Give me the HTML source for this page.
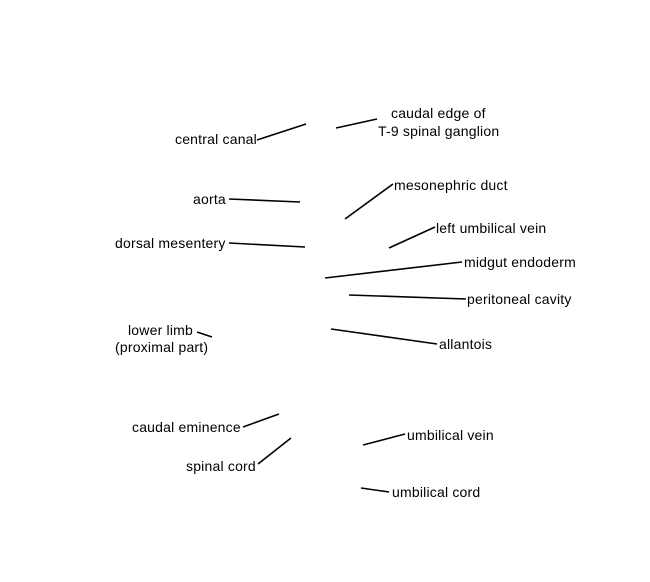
<!DOCTYPE html>
<html><head><meta charset="utf-8"><style>
html,body{margin:0;padding:0;background:#fff;}
#c{position:relative;width:650px;height:582px;overflow:hidden;font-family:"Liberation Sans",Arial,sans-serif;font-size:14px;letter-spacing:0.2px;color:#000;}
.t{position:absolute;line-height:16px;white-space:nowrap;}
svg{position:absolute;left:0;top:0;}
</style></head><body><div id="c">
<svg width="650" height="582" stroke="#000" stroke-width="1.6" fill="none">
<line x1="257" y1="140" x2="306" y2="124"/>
<line x1="336" y1="128" x2="377" y2="119"/>
<line x1="229" y1="199" x2="300" y2="202"/>
<line x1="345" y1="219" x2="393" y2="184"/>
<line x1="389" y1="248" x2="435" y2="227"/>
<line x1="229" y1="243" x2="305" y2="247"/>
<line x1="325" y1="278" x2="462" y2="262"/>
<line x1="349" y1="295" x2="466" y2="299"/>
<line x1="197" y1="332" x2="212" y2="337"/>
<line x1="331" y1="329" x2="437" y2="344"/>
<line x1="243" y1="427" x2="279" y2="414"/>
<line x1="258" y1="464" x2="291" y2="438"/>
<line x1="363" y1="445" x2="405" y2="434"/>
<line x1="361" y1="488" x2="389" y2="492"/>
</svg>
<div class="t" style="left:175px;top:131px">central canal</div>
<div class="t" style="left:391px;top:105px">caudal edge of</div>
<div class="t" style="left:378px;top:123px">T-9 spinal ganglion</div>
<div class="t" style="left:193px;top:191px">aorta</div>
<div class="t" style="left:394px;top:177px">mesonephric duct</div>
<div class="t" style="left:436px;top:220px">left umbilical vein</div>
<div class="t" style="left:115px;top:235px">dorsal mesentery</div>
<div class="t" style="left:464px;top:254px">midgut endoderm</div>
<div class="t" style="left:467px;top:291px">peritoneal cavity</div>
<div class="t" style="left:128px;top:322px">lower limb</div>
<div class="t" style="left:115px;top:339px">(proximal part)</div>
<div class="t" style="left:439px;top:336px">allantois</div>
<div class="t" style="left:132px;top:419px">caudal eminence</div>
<div class="t" style="left:186px;top:458px">spinal cord</div>
<div class="t" style="left:407px;top:427px">umbilical vein</div>
<div class="t" style="left:392px;top:484px">umbilical cord</div>
</div></body></html>
